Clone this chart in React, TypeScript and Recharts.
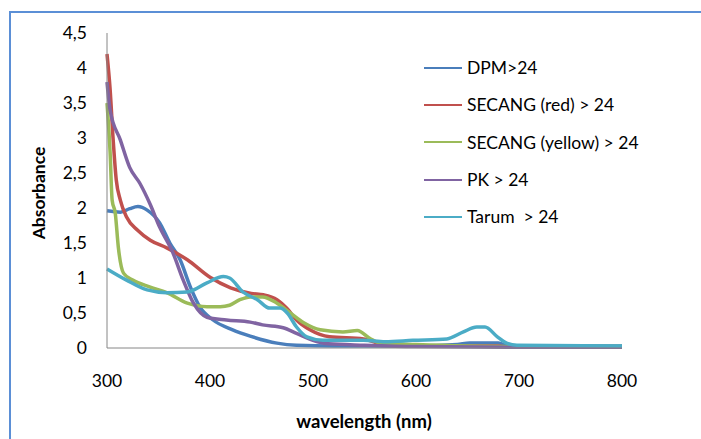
import React from 'react';
import { LineChart, Line, XAxis, YAxis } from 'recharts';

// wavelength (nm) / absorbance pairs
const dpmNm = [300, 313, 322, 330, 339, 351, 361, 371, 381, 390, 403, 422, 439, 465, 484, 520, 600, 640, 652, 680, 690, 740, 800];
const dpmAbs = [1.96, 1.94, 1.99, 2.02, 1.97, 1.79, 1.5, 1.26, 0.87, 0.59, 0.4, 0.26, 0.17, 0.07, 0.04, 0.03, 0.03, 0.05, 0.07, 0.07, 0.03, 0.03, 0.03];

const redNm = [300, 303, 306, 309, 313, 319, 330, 342, 358, 378, 400, 420, 440, 452, 465, 475, 484, 497, 516, 549, 565, 580, 620, 680, 690, 800];
const redAbs = [4.2, 3.7, 2.97, 2.4, 2.11, 1.87, 1.68, 1.54, 1.43, 1.26, 1.01, 0.86, 0.78, 0.76, 0.69, 0.56, 0.4, 0.26, 0.16, 0.13, 0.06, 0.04, 0.03, 0.03, 0.01, 0.01];

const yellowNm = [300, 303, 305, 308, 311, 316, 325, 342, 358, 378, 397, 410, 419, 429, 439, 451, 465, 478, 491, 507, 529, 543, 555, 565, 600, 700, 800];
const yellowAbs = [3.5, 2.8, 2.11, 1.93, 1.44, 1.07, 0.97, 0.87, 0.79, 0.64, 0.59, 0.59, 0.61, 0.69, 0.73, 0.73, 0.64, 0.5, 0.36, 0.26, 0.23, 0.25, 0.14, 0.07, 0.05, 0.02, 0.02];

const pkNm = [300, 303, 313, 322, 332, 342, 351, 364, 374, 384, 397, 416, 439, 451, 471, 484, 500, 515, 550, 600, 700, 800];
const pkAbs = [3.8, 3.4, 2.97, 2.58, 2.35, 2.05, 1.73, 1.36, 0.97, 0.64, 0.44, 0.4, 0.37, 0.33, 0.29, 0.21, 0.11, 0.06, 0.04, 0.02, 0.01, 0.01];

const tarumNm = [300, 319, 339, 358, 378, 397, 413, 419, 432, 446, 458, 468, 475, 484, 494, 510, 549, 570, 597, 630, 646, 659, 667, 679, 688, 698, 800];
const tarumAbs = [1.13, 0.97, 0.83, 0.79, 0.8, 0.93, 1.02, 1.0, 0.8, 0.69, 0.57, 0.57, 0.5, 0.3, 0.16, 0.11, 0.11, 0.09, 0.11, 0.13, 0.23, 0.3, 0.3, 0.16, 0.07, 0.04, 0.03];

const xTicks = [300, 400, 500, 600, 700, 800];
const yTicks = [0, 0.5, 1, 1.5, 2, 2.5, 3, 3.5, 4, 4.5];

const zip = (nm: number[], abs: number[]) => nm.map((x, i) => ({ nm: x, abs: abs[i] }));

const series = [
  { name: 'DPM>24', color: '#4a7ebb', data: zip(dpmNm, dpmAbs) },
  { name: 'SECANG (red) > 24', color: '#c0504d', data: zip(redNm, redAbs) },
  { name: 'SECANG (yellow) > 24', color: '#9bbb59', data: zip(yellowNm, yellowAbs) },
  { name: 'PK > 24', color: '#8064a2', data: zip(pkNm, pkAbs) },
  { name: 'Tarum  > 24', color: '#4bacc6', data: zip(tarumNm, tarumAbs) },
];

const font = 'Lato, "Open Sans", sans-serif';

export default function App() {
  return (
    <div
      style={{
        position: 'fixed',
        left: 0,
        top: 0,
        width: 701,
        height: 439,
        overflow: 'hidden',
        background: '#fff',
        fontFamily: font,
      }}
    >
      <div
        style={{
          position: 'absolute',
          left: 9,
          top: 11,
          width: 720,
          height: 460,
          border: '2px solid #5b8fd6',
        }}
      />
      <div style={{ position: 'absolute', left: 0, top: 0 }}>
        <LineChart width={701} height={439} margin={{ top: 33, right: 79, bottom: 31, left: 0 }}>
          <XAxis
            type="number"
            dataKey="nm"
            domain={[300, 800]}
            ticks={xTicks}
            allowDuplicatedCategory={false}
            tickLine={false}
            tickMargin={21}
            height={60}
            stroke="#868686"
            tick={{ fill: '#000', fontSize: 17.5, fontFamily: font }}
            label={{
              content: () => (
                <text x={364} y={428} textAnchor="middle" fontSize={18.5} fontWeight="bold" fontFamily={font} fill="#000">
                  wavelength (nm)
                </text>
              ),
            }}
          />
          <YAxis
            type="number"
            domain={[0, 4.5]}
            ticks={yTicks}
            width={107}
            tickLine={false}
            tickMargin={14}
            stroke="#868686"
            tick={{ fill: '#000', fontSize: 17.5, fontFamily: font }}
            tickFormatter={(v: number) => String(v).replace('.', ',')}
            label={{
              content: () => (
                <text
                  x={45}
                  y={193}
                  transform="rotate(-90 45 193)"
                  textAnchor="middle"
                  fontSize={17.5}
                  fontWeight="bold"
                  fontFamily={font}
                  fill="#000"
                >
                  Absorbance
                </text>
              ),
            }}
          />
          {series.map((s) => (
            <Line
              key={s.name}
              data={s.data}
              dataKey="abs"
              name={s.name}
              type="monotone"
              stroke={s.color}
              strokeWidth={3.5}
              dot={false}
              activeDot={false}
              isAnimationActive={false}
            />
          ))}
        </LineChart>
      </div>
      <div style={{ position: 'absolute', left: 424, top: 49 }}>
        {series.map((s) => (
          <div key={s.name} style={{ display: 'flex', alignItems: 'center', height: 37.3, fontSize: 17.5, color: '#000' }}>
            <span style={{ display: 'inline-block', width: 38, height: 2, background: s.color, marginRight: 5 }} />
            <span style={{ whiteSpace: 'pre' }}>{s.name}</span>
          </div>
        ))}
      </div>
    </div>
  );
}
